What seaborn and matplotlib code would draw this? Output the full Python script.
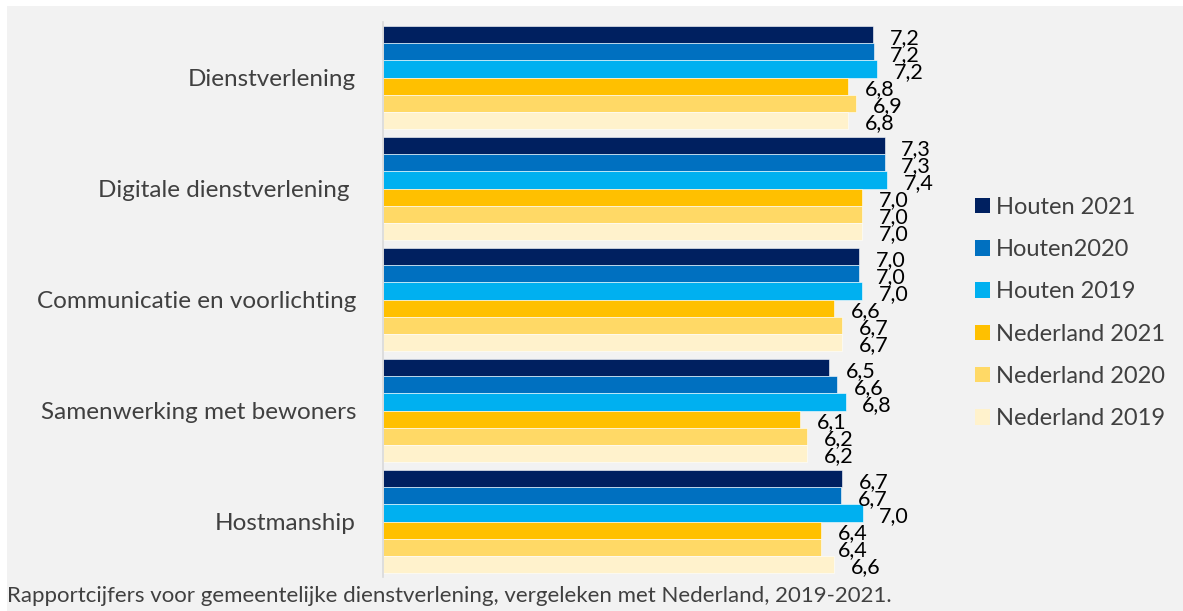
import pandas as pd
import matplotlib.pyplot as plt
import seaborn as sns
from matplotlib.patches import Patch, Rectangle

# Data
categories = ["Dienstverlening", "Digitale dienstverlening ", "Communicatie en voorlichting",
              "Samenwerking met bewoners", "Hostmanship"]
series = ["Houten 2021", "Houten2020", "Houten 2019", "Nederland 2021", "Nederland 2020", "Nederland 2019"]
houten_2021 = [7.16, 7.33, 6.96, 6.52, 6.71]
houten_2020 = [7.17, 7.33, 6.96, 6.64, 6.70]
houten_2019 = [7.22, 7.37, 7.00, 6.76, 7.01]
nederland_2021 = [6.80, 7.00, 6.59, 6.10, 6.40]
nederland_2020 = [6.91, 7.00, 6.71, 6.20, 6.40]
nederland_2019 = [6.80, 7.00, 6.71, 6.20, 6.59]
colors = ["#002060", "#0070C0", "#00B0F0", "#FFC000", "#FFD966", "#FFF2CC"]

values = [houten_2021, houten_2020, houten_2019, nederland_2021, nederland_2020, nederland_2019]
df = pd.DataFrame([
    {"categorie": c, "reeks": s, "cijfer": v}
    for s, vals in zip(series, values)
    for c, v in zip(categories, vals)
])

sns.set_style("white")
plt.rcParams["font.family"] = ["Lato", "DejaVu Sans"]

W, H = 1183, 611
fig = plt.figure(figsize=(W / 100, H / 100), dpi=100)
fig.patch.set_facecolor("white")
fig.patches.append(Rectangle((7 / W, 0), 1, 605 / H, transform=fig.transFigure,
                             facecolor="#f2f2f2", edgecolor="none", zorder=-10))

ax = fig.add_axes([382.5 / W, 1 - 577 / H, 548 / W, 555 / H])
ax.set_facecolor("none")

sns.barplot(data=df, y="categorie", x="cijfer", hue="reeks", order=categories,
            hue_order=series, palette=colors, saturation=1, width=0.92,
            orient="h", legend=False, edgecolor="white", linewidth=0.4, ax=ax)

ax.set_xlim(0, 8)
ax.set_xlabel("")
ax.set_ylabel("")
ax.set_xticks([])
ax.tick_params(axis="y", length=0, pad=19, labelsize=17.5, labelcolor="#404040")
for side in ["top", "right", "bottom"]:
    ax.spines[side].set_visible(False)
ax.spines["left"].set_color("#d9d9d9")
ax.spines["left"].set_linewidth(1.2)

# value labels
for container in ax.containers:
    for bar in container:
        w = bar.get_width()
        yc = bar.get_y() + bar.get_height() / 2
        ax.annotate(f"{w:.1f}".replace(".", ","), xy=(w, yc), xytext=(12, -6.5),
                    textcoords="offset points", ha="left", va="baseline",
                    fontsize=15.5, color="black")

handles = [Patch(facecolor=c, edgecolor="none") for c in colors]
fig.legend(handles, series, loc="center left", bbox_to_anchor=(963 / W, 1 - 313 / H),
           frameon=False, fontsize=17, handlelength=0.64, handleheight=0.64,
           handletextpad=0.25, labelspacing=0.9, borderpad=0, labelcolor="#404040")

fig.text(7 / W, 1 - 596 / H,
         "Rapportcijfers voor gemeentelijke dienstverlening, vergeleken met Nederland, 2019-2021.",
         ha="left", va="center", fontsize=16, color="#404040")

fig.savefig("out.png", dpi=100)
